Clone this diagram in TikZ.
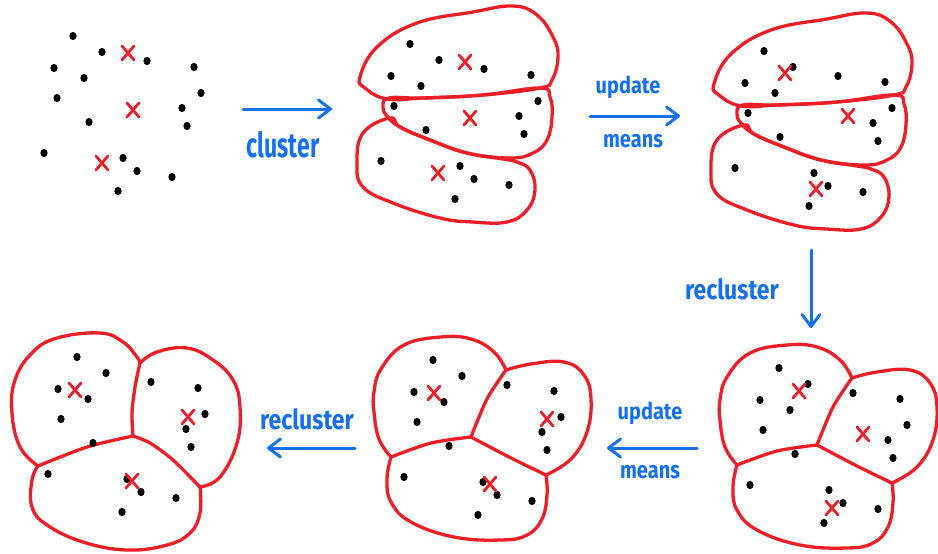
\documentclass[tikz,border=0pt]{standalone}
\usepackage{fontspec}
\setmainfont{Fira Sans}
\usetikzlibrary{arrows.meta}
\definecolor{kmred}{RGB}{236,30,40}
\definecolor{kmblue}{RGB}{22,112,238}

\tikzset{
  outline/.style={draw=kmred, line width=3.3pt, line join=round, line cap=round},
  flow/.style={draw=kmblue, line width=3pt, line cap=round, line join=round,
    -{Straight Barb[length=12pt,width=18pt,line cap=round,line join=round]}},
  lbl/.style={text=kmblue, inner sep=0pt},
  mean/.style={draw=kmred, line width=2.8pt, line cap=round},
}

% the sixteen data points, in panel coordinates
\newcommand\kmpoints{%
  \foreach \px/\py in {73/36,102/52,147/61,54/68,194/67,84/78,201/93,57/98,
                       182/108,89/122,187/126,44/153,123/158,137/171,172/177,118/191}
    {\fill (\px,\py) ellipse[x radius=3.6pt, y radius=4.1pt];}}

% a cluster mean
\newcommand\kmmean[2]{\draw[mean] (#1,#2) +(-6,-7) -- +(6,7) +(6,-7) -- +(-6,7);}

% hand lettering: size, vertical stretch, text
\newcommand\hand[3]{\fontsize{#1}{#1}\selectfont\bfseries\scalebox{1}[#2]{#3}}

% three stacked clusters
\newcommand\kmstacked{%
  \draw[outline] plot[smooth cycle, tension=0.7] coordinates
    {(23,69)(40,39)(80,15)(136,4)(176,-2)(200,7)(216,29)(221,49)(215,72)(203,80)(146,87)(86,90)(50,91)(28,80)};
  \draw[outline] plot[smooth cycle, tension=0.7] coordinates
    {(52,90)(86,90)(146,87)(203,80)(213,89)(215,109)(210,132)(196,145)(173,150)(130,145)(93,132)(63,119)(50,108)(46,99)};
  \draw[outline] plot[smooth cycle, tension=0.7] coordinates
    {(53,110)(26,125)(20,155)(26,179)(56,195)(103,210)(136,214)(170,214)(190,202)(198,182)(193,162)(180,154)(166,151)(130,145)(93,132)(63,119)};
}

% three clusters split by a vertical boundary
\newcommand\kmcellsA{%
  \draw[outline] plot[smooth, tension=0.7] coordinates
    {(34,145)(16,126)(8,92)(11,59)(28,32)(53,17)(96,12)(119,21)(133,36)(136,42)};
  \draw[outline] plot[smooth] coordinates {(136,42)(131,66)(128,92)(129,115)};
  \draw[outline] plot[smooth, tension=0.7] coordinates
    {(136,42)(153,31)(183,27)(209,39)(229,59)(236,86)(233,122)(216,156)(196,166)};
  \draw[outline] plot[smooth] coordinates {(196,166)(169,139)(146,122)(129,115)};
  \draw[outline] plot[smooth] coordinates {(129,115)(83,126)(34,145)};
  \draw[outline] plot[smooth, tension=0.7] coordinates
    {(34,145)(28,159)(28,186)(43,204)(79,221)(123,229)(163,224)(186,212)(196,192)(196,166)};
}

% three clusters split by a slanted boundary
\newcommand\kmcellsB{%
  \draw[outline] plot[smooth, tension=0.7] coordinates
    {(31,133)(19,115)(14,88)(14,68)(21,45)(44,21)(81,13)(111,15)(134,28)(146,46)};
  \draw[outline] plot[smooth] coordinates {(146,46)(127,75)(111,113)};
  \draw[outline] plot[smooth, tension=0.7] coordinates
    {(146,46)(171,40)(204,38)(224,51)(231,75)(227,108)(211,135)(186,151)};
  \draw[outline] plot[smooth] coordinates {(186,151)(151,134)(111,113)};
  \draw[outline] plot[smooth] coordinates {(111,113)(71,119)(31,133)};
  \draw[outline] plot[smooth, tension=0.7] coordinates
    {(31,133)(27,155)(31,178)(51,198)(94,213)(141,216)(167,211)(182,195)(187,171)(186,151)};
}

\begin{document}
\begin{tikzpicture}[x=1pt,y=-1pt]
\useasboundingbox (0,0) rectangle (938,554);

% top row
\begin{scope}
  \kmpoints
  \kmmean{128}{53}\kmmean{133}{110}\kmmean{102}{163}
\end{scope}
\begin{scope}[shift={(337,8)}]
  \kmstacked
  \kmpoints
  \kmmean{128}{54}\kmmean{133}{110}\kmmean{101}{165}
\end{scope}
\begin{scope}[shift={(691,15)}]
  \kmstacked
  \kmpoints
  \kmmean{94}{58}\kmmean{157}{101}\kmmean{125}{174}
\end{scope}

% bottom row
\begin{scope}[shift={(706,332)}]
  \kmcellsB
  \kmpoints
  \kmmean{93}{59}\kmmean{157}{102}\kmmean{126}{176}
\end{scope}
\begin{scope}[shift={(360,324)}]
  \kmcellsB
  \kmpoints
  \kmmean{74}{69}\kmmean{187}{95}\kmmean{130}{160}
\end{scope}
\begin{scope}[shift={(4,321)}]
  \kmcellsA
  \kmpoints
  \kmmean{71}{69}\kmmean{184}{96}\kmmean{128}{160}
\end{scope}

% steps between panels
\coordinate (s1a) at (243,109); \coordinate (s1b) at (332,109);
\coordinate (s2a) at (590,116); \coordinate (s2b) at (680,116);
\coordinate (s3a) at (811,250); \coordinate (s3b) at (811,328);
\coordinate (s4a) at (697,448); \coordinate (s4b) at (607,448);
\coordinate (s5a) at (355,448); \coordinate (s5b) at (267,448);
\draw[flow] (s1a) -- (s1b);
\draw[flow] (s2a) -- (s2b);
\draw[flow] (s3a) -- (s3b);
\draw[flow] (s4a) -- (s4b);
\draw[flow] (s5a) -- (s5b);

\node[lbl] (l1) at (283,145) {\hand{23}{1.5}{cluster}};
\node[lbl] (l2) at (628,87) {\hand{20}{1.15}{update}};
\node[lbl] (l3) at (633,141) {\hand{20}{1.2}{means}};
\node[lbl] (l4) at (732,289) {\hand{23}{1.2}{recluster}};
\node[lbl] (l5) at (650,413) {\hand{20}{1.15}{update}};
\node[lbl] (l6) at (650,472) {\hand{20}{1.2}{means}};
\node[lbl] (l7) at (307,419) {\hand{23}{1.2}{recluster}};
\end{tikzpicture}
\end{document}
